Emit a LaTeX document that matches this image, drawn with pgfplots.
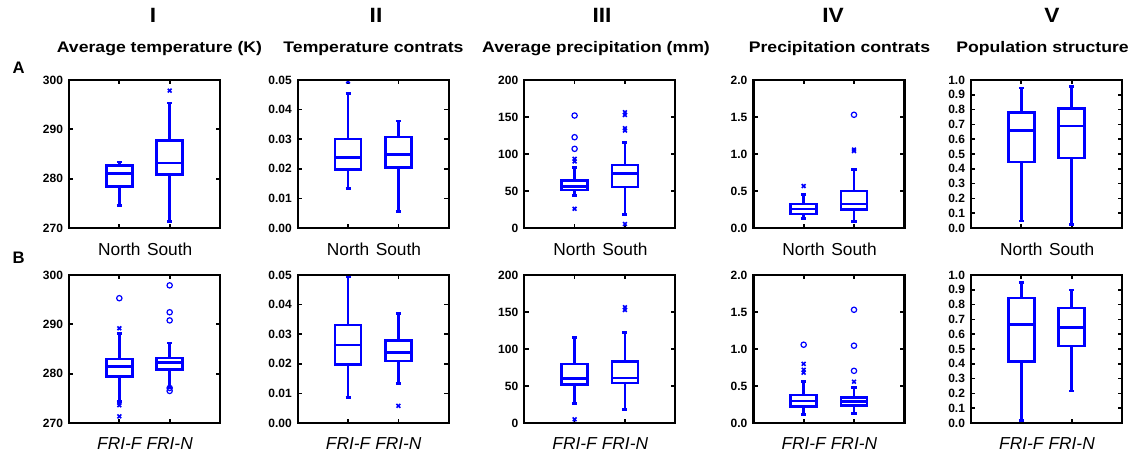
\documentclass[border=0pt]{standalone}
\usepackage{fontspec}
\setmainfont{Liberation Sans}
\usepackage{graphicx}
\usepackage{pgfplots}
\pgfplotsset{compat=1.18}
\usepgfplotslibrary{statistics}
\definecolor{bl}{RGB}{0,0,255}
\pgfplotsset{
  panel/.style={
    scale only axis, width=113.25pt, height=111pt,
    anchor=north west,
    xmin=0, xmax=3, xtick={1,2},
    axis line style={line width=1.8pt, black},
    tick style={black, line width=1.3pt},
    major tick length=3.2pt,
    tick align=inside,
    scaled y ticks=false,
    /pgf/number format/assume math mode=true,
    yticklabel style={font=\bfseries\fontsize{9}{9}\selectfont, xshift=-1pt},
    xticklabel style={font=\fontsize{13}{13}\selectfont, yshift=-7.5pt},
    clip=false,
    after end axis/.code={\draw[black, line width=1.8pt] (rel axis cs:0,0) rectangle (rel axis cs:1,1);},
  },
  rowA/.style={xticklabels={North,South}},
  rowB/.style={xticklabels={\itshape FRI-F,\itshape FRI-N}},
  cI/.style={ymin=270,ymax=300,ytick={270,280,290,300}},
  cII/.style={ymin=0,ymax=0.05,ytick={0,0.01,0.02,0.03,0.04,0.05},
    yticklabel style={/pgf/number format/fixed,/pgf/number format/fixed zerofill,/pgf/number format/precision=2}},
  cIII/.style={ymin=0,ymax=200,ytick={0,50,100,150,200}},
  cIV/.style={ymin=0,ymax=2,ytick={0,0.5,1,1.5,2},
    yticklabel style={/pgf/number format/fixed,/pgf/number format/fixed zerofill,/pgf/number format/precision=1}},
  cV/.style={ymin=0,ymax=1,ytick={0,0.1,0.2,0.3,0.4,0.5,0.6,0.7,0.8,0.9,1.0},
    yticklabel style={/pgf/number format/fixed,/pgf/number format/fixed zerofill,/pgf/number format/precision=1}},
  bx/.style={bl, line width=2pt, solid, boxplot/draw direction=y, boxplot/box extend=0.52, boxplot/whisker extend=0.1},
  ox/.style={bl, only marks, mark=x, mark size=2pt, line width=1.2pt},
  oo/.style={bl, only marks, mark=o, mark size=2pt, line width=0.9pt},
}
\begin{document}
\begin{tikzpicture}
\path (0,0) rectangle (849pt,-341.25pt);
\tikzset{hd/.style={font=\bfseries\fontsize{11.5}{11.5}\selectfont, inner sep=0pt},
         nm/.style={font=\bfseries\fontsize{15.5}{15.5}\selectfont, inner sep=0pt}}
\node[nm] at (114.75pt,-11.6pt) {\scalebox{1.1}[1]{I}};
\node[nm] at (282pt,-11.6pt) {\scalebox{1.1}[1]{II}};
\node[nm] at (451.5pt,-11.6pt) {\scalebox{1.1}[1]{III}};
\node[nm] at (624.75pt,-11.6pt) {\scalebox{1.1}[1]{IV}};
\node[nm] at (789pt,-11.6pt) {\scalebox{1.1}[1]{V}};
\node[hd] at (119.6pt,-36.4pt) {\scalebox{1.15}[1]{Average temperature (K)}};
\node[hd] at (280.1pt,-36.4pt) {\scalebox{1.15}[1]{Temperature contrats}};
\node[hd] at (447pt,-36.4pt) {\scalebox{1.15}[1]{Average precipitation (mm)}};
\node[hd] at (629.6pt,-36.4pt) {\scalebox{1.15}[1]{Precipitation contrats}};
\node[hd] at (781.9pt,-36.4pt) {\scalebox{1.15}[1]{Population structure}};
\node[font=\bfseries\fontsize{12.5}{12}\selectfont, inner sep=0pt] at (13.9pt,-50.6pt) {A};
\node[font=\bfseries\fontsize{12.5}{12}\selectfont, inner sep=0pt] at (13.9pt,-193.1pt) {B};

% ---------- Row A ----------
\begin{axis}[panel, rowA, cI, at={(51.75pt,-60pt)}]
\addplot[bx, boxplot prepared={draw position=1, lower whisker=274.5, lower quartile=278.4, median=281.1, upper quartile=282.7, upper whisker=283.35}] coordinates {};
\addplot[bx, boxplot prepared={draw position=2, lower whisker=271.35, lower quartile=280.9, median=283.15, upper quartile=287.7, upper whisker=295.35}] coordinates {};
\addplot[ox] coordinates {(2,297.85)};
\end{axis}

\begin{axis}[panel, rowA, cII, at={(223.3pt,-60pt)}]
\addplot[bx, boxplot prepared={draw position=1, lower whisker=0.0133, lower quartile=0.0198, median=0.0239, upper quartile=0.0301, upper whisker=0.0454}] coordinates {};
\addplot[bx, boxplot prepared={draw position=2, lower whisker=0.0056, lower quartile=0.0204, median=0.0249, upper quartile=0.0307, upper whisker=0.0361}] coordinates {};
\addplot[ox] coordinates {(1,0.0495)};
\end{axis}

\begin{axis}[panel, rowA, cIII, at={(393.2pt,-60pt)}]
\addplot[bx, boxplot prepared={draw position=1, lower whisker=43.6, lower quartile=51.5, median=56.5, upper quartile=64.5, upper whisker=81.8}] coordinates {};
\addplot[bx, boxplot prepared={draw position=2, lower whisker=18, lower quartile=55.3, median=73.3, upper quartile=85, upper whisker=115.5}] coordinates {};
\addplot[oo] coordinates {(1,152) (1,122.7) (1,107)};
\addplot[ox] coordinates {(1,93.5) (1,90) (1,26) (2,156.4) (2,152.8) (2,134.8) (2,131.7) (2,5.4)};
\end{axis}

\begin{axis}[panel, rowA, cIV, at={(565pt,-60pt)}]
\addplot[bx, boxplot prepared={draw position=1, lower whisker=0.125, lower quartile=0.1875, median=0.259, upper quartile=0.326, upper whisker=0.455}] coordinates {};
\addplot[bx, boxplot prepared={draw position=2, lower whisker=0.089, lower quartile=0.246, median=0.326, upper quartile=0.5, upper whisker=0.795}] coordinates {};
\addplot[oo] coordinates {(2,1.53)};
\addplot[ox] coordinates {(1,0.567) (2,1.06) (2,1.04)};
\end{axis}

\begin{axis}[panel, rowA, cV, at={(728.25pt,-60pt)}]
\addplot[bx, boxplot prepared={draw position=1, lower whisker=0.047, lower quartile=0.447, median=0.661, upper quartile=0.782, upper whisker=0.946}] coordinates {};
\addplot[bx, boxplot prepared={draw position=2, lower whisker=0.025, lower quartile=0.474, median=0.69, upper quartile=0.807, upper whisker=0.955}] coordinates {};
\end{axis}

% ---------- Row B ----------
\begin{axis}[panel, rowB, cI, at={(51.75pt,-206.25pt)}]
\addplot[bx, boxplot prepared={draw position=1, lower whisker=274.4, lower quartile=279.4, median=281.5, upper quartile=282.95, upper whisker=288.1}] coordinates {};
\addplot[bx, boxplot prepared={draw position=2, lower whisker=277.2, lower quartile=280.8, median=282.3, upper quartile=283.2, upper whisker=286.2}] coordinates {};
\addplot[oo] coordinates {(1,295.3) (2,297.9) (2,292.45) (2,290.8) (2,277.1) (2,276.5)};
\addplot[ox] coordinates {(1,289.2) (1,274.1) (1,273.6) (1,271.35)};
\end{axis}

\begin{axis}[panel, rowB, cII, at={(223.3pt,-206.25pt)}]
\addplot[bx, boxplot prepared={draw position=1, lower whisker=0.0087, lower quartile=0.0197, median=0.0264, upper quartile=0.0331, upper whisker=0.0496}] coordinates {};
\addplot[bx, boxplot prepared={draw position=2, lower whisker=0.0133, lower quartile=0.021, median=0.0239, upper quartile=0.0279, upper whisker=0.0369}] coordinates {};
\addplot[ox] coordinates {(2,0.0058)};
\end{axis}

\begin{axis}[panel, rowB, cIII, at={(393.2pt,-206.25pt)}]
\addplot[bx, boxplot prepared={draw position=1, lower whisker=26, lower quartile=51.7, median=59.8, upper quartile=79.6, upper whisker=115.5}] coordinates {};
\addplot[bx, boxplot prepared={draw position=2, lower whisker=18, lower quartile=53.9, median=60.7, upper quartile=82.7, upper whisker=122.7}] coordinates {};
\addplot[ox] coordinates {(1,5) (2,156.4) (2,152.8)};
\end{axis}

\begin{axis}[panel, rowB, cIV, at={(565pt,-206.25pt)}]
\addplot[bx, boxplot prepared={draw position=1, lower whisker=0.112, lower quartile=0.219, median=0.299, upper quartile=0.38, upper whisker=0.558}] coordinates {};
\addplot[bx, boxplot prepared={draw position=2, lower whisker=0.13, lower quartile=0.237, median=0.29, upper quartile=0.344, upper whisker=0.478}] coordinates {};
\addplot[oo] coordinates {(1,1.058) (2,1.53) (2,1.045) (2,0.705)};
\addplot[ox] coordinates {(1,0.80) (1,0.72) (1,0.68) (2,0.558)};
\end{axis}

\begin{axis}[panel, rowB, cV, at={(728.25pt,-206.25pt)}]
\addplot[bx, boxplot prepared={draw position=1, lower whisker=0.018, lower quartile=0.416, median=0.665, upper quartile=0.845, upper whisker=0.95}] coordinates {};
\addplot[bx, boxplot prepared={draw position=2, lower whisker=0.216, lower quartile=0.521, median=0.647, upper quartile=0.778, upper whisker=0.899}] coordinates {};
\end{axis}
\end{tikzpicture}
\end{document}
